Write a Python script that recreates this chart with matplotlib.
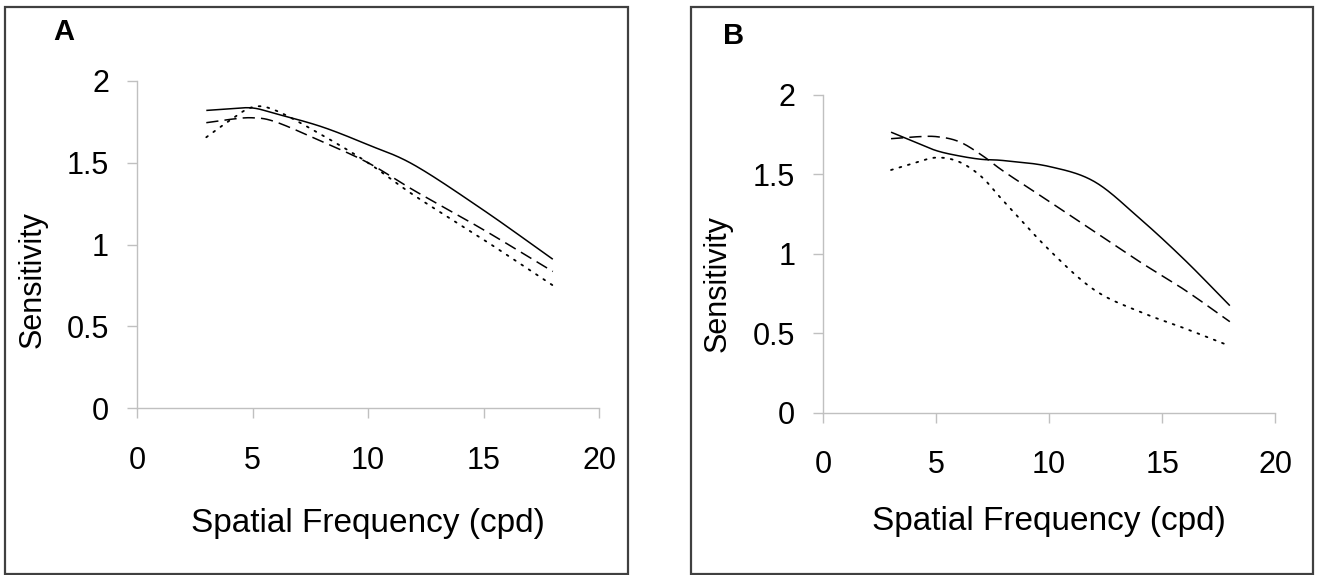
import numpy as np
import matplotlib
matplotlib.use("Agg")
import matplotlib.pyplot as plt
from matplotlib.patches import Rectangle

plt.rcParams['font.family'] = ['Liberation Sans', 'DejaVu Sans']

# panel A data (spatial frequency vs sensitivity)
freq_a = [3, 4, 5, 6, 8, 10, 12, 15, 18]
solid_a = [1.82, 1.83, 1.835, 1.80, 1.72, 1.61, 1.486, 1.21, 0.91]
dashed_a = [1.745, 1.765, 1.775, 1.75, 1.63, 1.50, 1.33, 1.09, 0.835]
dotted_a = [1.656, 1.757, 1.84, 1.82, 1.67, 1.50, 1.30, 1.03, 0.75]

# panel B data
freq_b = [3, 4, 5, 6, 7, 8, 10, 12, 14, 16, 18]
solid_b = [1.766, 1.707, 1.65, 1.617, 1.595, 1.587, 1.55, 1.455, 1.224, 0.962, 0.674]
dashed_b = [1.725, 1.736, 1.738, 1.707, 1.623, 1.518, 1.33, 1.14, 0.951, 0.773, 0.573]
dotted_b = [1.528, 1.57, 1.606, 1.58, 1.486, 1.329, 1.025, 0.773, 0.636, 0.531, 0.42]

xticks = [0, 5, 10, 15, 20]
yticks = [0, 0.5, 1, 1.5, 2]
yticklabels = ['0', '0.5', '1', '1.5', '2']


def smooth(x, y, n=30):
    # catmull-rom curve through the points, like excel's smoothed line
    x = np.asarray(x, float)
    y = np.asarray(y, float)
    px = np.concatenate([[2 * x[0] - x[1]], x, [2 * x[-1] - x[-2]]])
    py = np.concatenate([[2 * y[0] - y[1]], y, [2 * y[-1] - y[-2]]])
    xs, ys = [], []
    t = np.linspace(0, 1, n, endpoint=False)
    for i in range(1, len(px) - 2):
        for p, out in ((px, xs), (py, ys)):
            p0, p1, p2, p3 = p[i - 1], p[i], p[i + 1], p[i + 2]
            out.append(0.5 * (2 * p1 + (-p0 + p2) * t
                              + (2 * p0 - 5 * p1 + 4 * p2 - p3) * t ** 2
                              + (-p0 + 3 * p1 - 3 * p2 + p3) * t ** 3))
    xs.append([x[-1]])
    ys.append([y[-1]])
    return np.concatenate(xs), np.concatenate(ys)


W, H = 1319, 575
fig = plt.figure(figsize=(W / 100, H / 100), dpi=100)

# outer frames round each panel
for x0, x1 in ((5, 628), (691, 1313)):
    fig.patches.append(Rectangle((x0 / W, 1 - 574 / H), (x1 - x0) / W, (574 - 7) / H,
                                 transform=fig.transFigure, fill=False,
                                 edgecolor='#404040', linewidth=1.6))

grey = '#c0c0c0'
fs = 22


def setup(ax, xl_y, yl_x, yl_y):
    ax.set_xlim(0, 20)
    ax.set_ylim(0, 2)
    ax.set_xticks(xticks)
    ax.set_yticks(yticks)
    ax.set_yticklabels(yticklabels)
    for s in ('top', 'right'):
        ax.spines[s].set_visible(False)
    for s in ('left', 'bottom'):
        ax.spines[s].set_color(grey)
        ax.spines[s].set_linewidth(1.0)
    ax.tick_params(axis='both', color=grey, length=7.2, width=1.0,
                   labelsize=fs, direction='out')
    ax.tick_params(axis='x', pad=20)
    ax.tick_params(axis='y', pad=13)
    ax.set_xlabel('Spatial Frequency (cpd)', fontsize=24, va='center')
    ax.xaxis.set_label_coords(0.5, xl_y)
    ax.set_ylabel('Sensitivity', fontsize=fs, va='center')
    ax.yaxis.set_label_coords(yl_x, yl_y)
    ax.patch.set_alpha(0)


def draw(ax, x, s, d, o):
    lw = 1.1
    ax.plot(*smooth(x, s), color='black', lw=lw, solid_capstyle='butt')
    ax.plot(*smooth(x, d), color='black', lw=lw, dashes=(8, 4))
    ax.plot(*smooth(x, o), color='black', lw=lw * 1.2, dashes=(1.0, 3.8),
            dash_capstyle='round')


ax_a = fig.add_axes([137 / W, 1 - 408 / H, (599 - 137) / W, (408 - 81) / H])
setup(ax_a, -0.352, -0.227, 0.394)
draw(ax_a, freq_a, solid_a, dashed_a, dotted_a)

ax_b = fig.add_axes([823.3 / W, 1 - 412.7 / H, (1275 - 823.3) / W, (412.7 - 95) / H])
setup(ax_b, -0.341, -0.233, 0.408)
draw(ax_b, freq_b, solid_b, dashed_b, dotted_b)

fig.text(64 / W, 1 - 32 / H, 'A', fontsize=21, fontweight='bold', ha='center', va='center')
fig.text(734 / W, 1 - 36 / H, 'B', fontsize=21, fontweight='bold', ha='center', va='center')

fig.savefig('out.png', dpi=100)
